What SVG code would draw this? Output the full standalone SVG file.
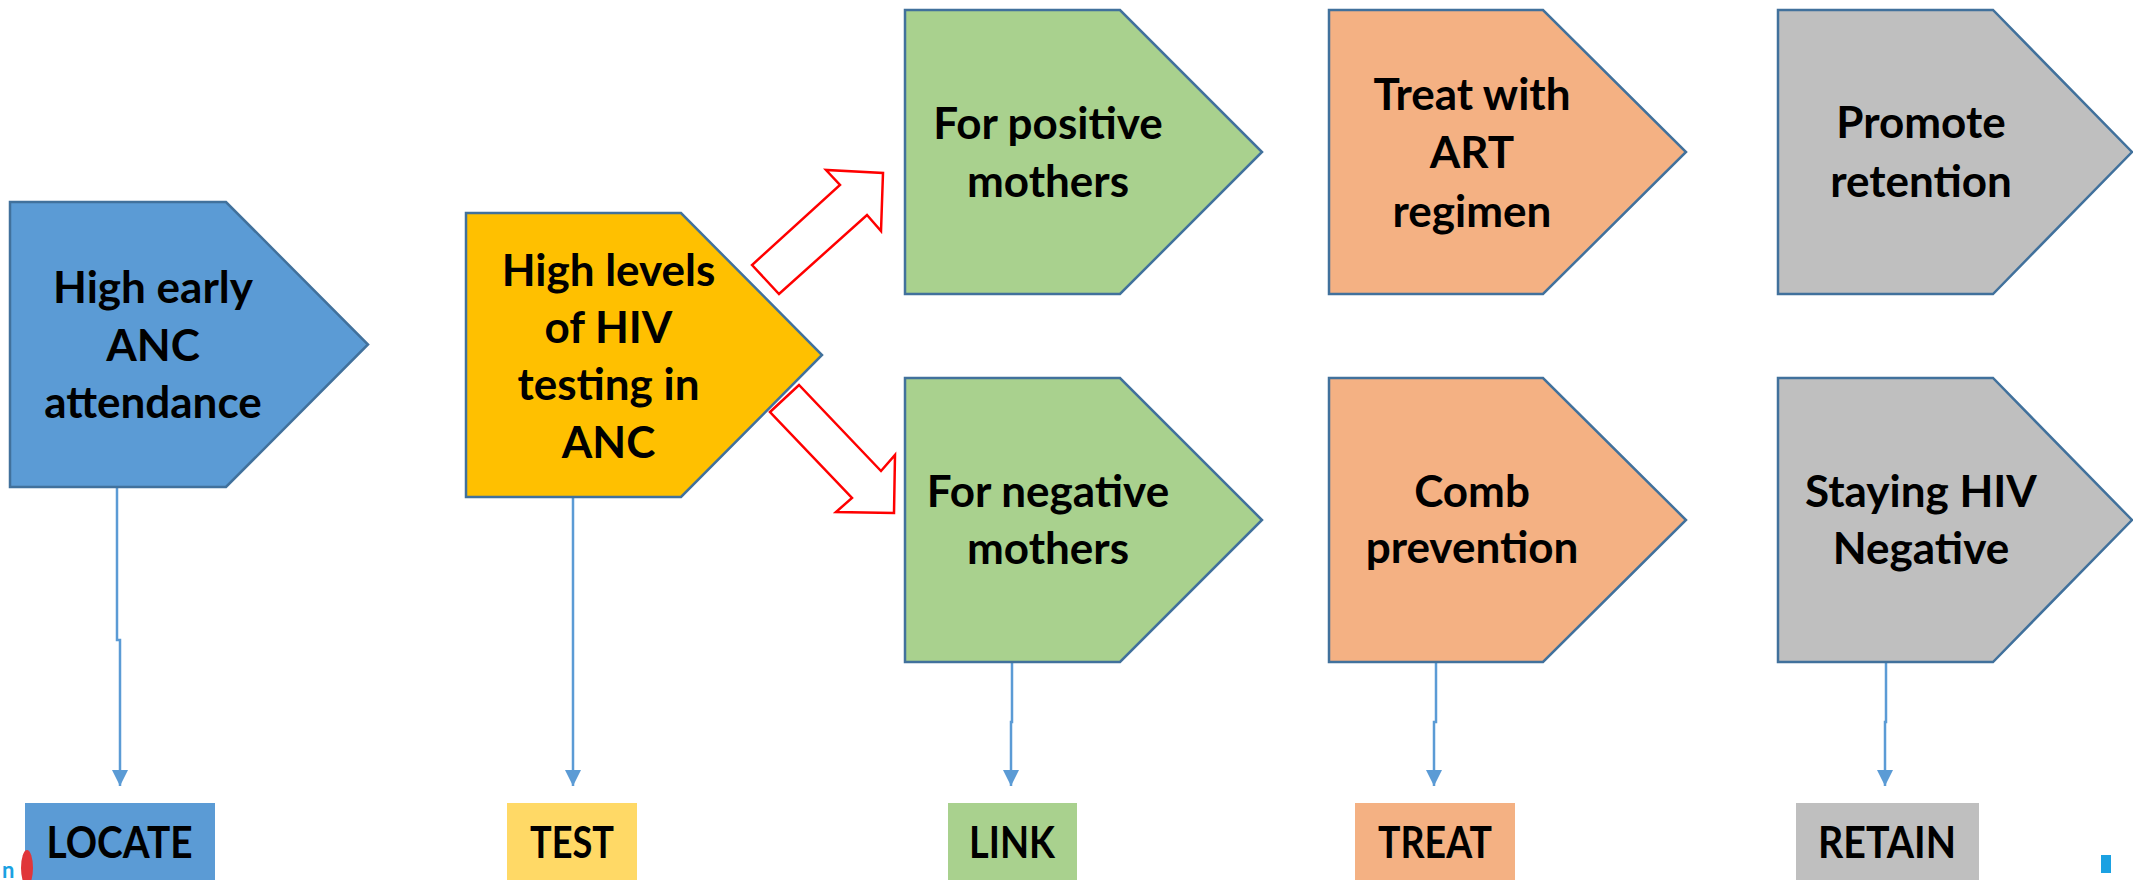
<svg xmlns="http://www.w3.org/2000/svg" width="2133" height="880" viewBox="0 0 2133 880">
<defs>
<style>
.pent{stroke:#41719C;stroke-width:2.5;stroke-linejoin:miter}
.blue{fill:#5B9BD5}.yel{fill:#FFC000}.grn{fill:#A9D18E}.org{fill:#F4B183}.gry{fill:#BFBFBF}
.t{font-family:Lato,"Liberation Sans",sans-serif;font-weight:bold;font-size:44px;fill:#000;text-anchor:middle}
.lbl{font-family:Lato,"Liberation Sans",sans-serif;font-weight:bold;font-size:43px;fill:#000;text-anchor:middle}
.con{fill:none;stroke:#5B9BD5;stroke-width:2.5}
.red{fill:#fff;stroke:#FF0000;stroke-width:2.5;stroke-linejoin:miter}
</style>
<marker id="ah" markerUnits="userSpaceOnUse" markerWidth="16" markerHeight="17" refX="16" refY="8" orient="auto">
<path d="M0,0 L16,8 L0,16 Z" fill="#5B9BD5"/>
</marker>
</defs>
<rect width="2133" height="880" fill="#fff"/>

<g id="connectors">
<polyline class="con" points="117,487 117,640 120,640 120,786" marker-end="url(#ah)"/>
<polyline class="con" points="573,497 573,786" marker-end="url(#ah)"/>
<polyline class="con" points="1012,662 1012,722 1011,722 1011,786" marker-end="url(#ah)"/>
<polyline class="con" points="1436,662 1436,722 1434,722 1434,786" marker-end="url(#ah)"/>
<polyline class="con" points="1886,662 1886,722 1885,722 1885,786" marker-end="url(#ah)"/>
<polygon class="red" points="752,265 779,294 867,215 881,231 883,173 826,170 840,185"/>
<polygon class="red" points="770,412 799,385 881,471 895,455 894,513 836,512 852,498"/>
</g>

<g id="locate-node">
<polygon class="pent blue" points="10,202 226,202 368,344.5 226,487 10,487"/>
<text class="t" x="153" y="303">High early</text>
<text class="t" x="153" y="361">ANC</text>
<text class="t" x="153" y="418">attendance</text>
</g>

<g id="test-node">
<polygon class="pent yel" points="466,213 681,213 822,355 681,497 466,497"/>
<text class="t" x="608.5" y="286">High levels</text>
<text class="t" x="608.5" y="343">of HIV</text>
<text class="t" x="608.5" y="400">testing in</text>
<text class="t" x="608.5" y="458">ANC</text>
</g>

<g id="positive-node">
<polygon class="pent grn" points="905,10 1120,10 1262,152 1120,294 905,294"/>
<text class="t" x="1048" y="139">For positive</text>
<text class="t" x="1048" y="197">mothers</text>
</g>

<g id="negative-node">
<polygon class="pent grn" points="905,378 1120,378 1262,520 1120,662 905,662"/>
<text class="t" x="1048" y="507">For negative</text>
<text class="t" x="1048" y="564">mothers</text>
</g>

<g id="art-node">
<polygon class="pent org" points="1329,10 1543,10 1686,152 1543,294 1329,294"/>
<text class="t" x="1472" y="110">Treat with</text>
<text class="t" x="1472" y="168">ART</text>
<text class="t" x="1472" y="227">regimen</text>
</g>

<g id="prevention-node">
<polygon class="pent org" points="1329,378 1543,378 1686,520 1543,662 1329,662"/>
<text class="t" x="1472" y="507">Comb</text>
<text class="t" x="1472" y="563">prevention</text>
</g>

<g id="retention-node">
<polygon class="pent gry" points="1778,10 1993,10 2132,152 1993,294 1778,294"/>
<text class="t" x="1921" y="138">Promote</text>
<text class="t" x="1921" y="197">retention</text>
</g>

<g id="negative-stay-node">
<polygon class="pent gry" points="1778,378 1993,378 2132,520 1993,662 1778,662"/>
<text class="t" x="1921" y="507">Staying HIV</text>
<text class="t" x="1921" y="564">Negative</text>
</g>

<g id="label-locate">
<rect x="25" y="803" width="190" height="80" fill="#5B9BD5"/>
<text class="lbl" x="119.5" y="858" textLength="146" lengthAdjust="spacingAndGlyphs">LOCATE</text>
</g>
<g id="label-test">
<rect x="507" y="803" width="130" height="80" fill="#FFD966"/>
<text class="lbl" x="572" y="858" textLength="84" lengthAdjust="spacingAndGlyphs">TEST</text>
</g>
<g id="label-link">
<rect x="948" y="803" width="129" height="80" fill="#A9D18E"/>
<text class="lbl" x="1012" y="858" textLength="86" lengthAdjust="spacingAndGlyphs">LINK</text>
</g>
<g id="label-treat">
<rect x="1355" y="803" width="160" height="80" fill="#F4B183"/>
<text class="lbl" x="1435" y="858" textLength="114" lengthAdjust="spacingAndGlyphs">TREAT</text>
</g>
<g id="label-retain">
<rect x="1796" y="803" width="183" height="80" fill="#BFBFBF"/>
<text class="lbl" x="1887" y="858" textLength="138" lengthAdjust="spacingAndGlyphs">RETAIN</text>
</g>

<g id="logo-fragments">
<text x="2" y="878" font-family="Lato,'Liberation Sans',sans-serif" font-weight="bold" font-size="22" fill="#1BA1E2">n</text>
<ellipse cx="27" cy="868" rx="6" ry="18" fill="#E0363A"/>
<rect x="2101" y="855" width="10" height="18" fill="#1BA1E2"/>
</g>
</svg>
